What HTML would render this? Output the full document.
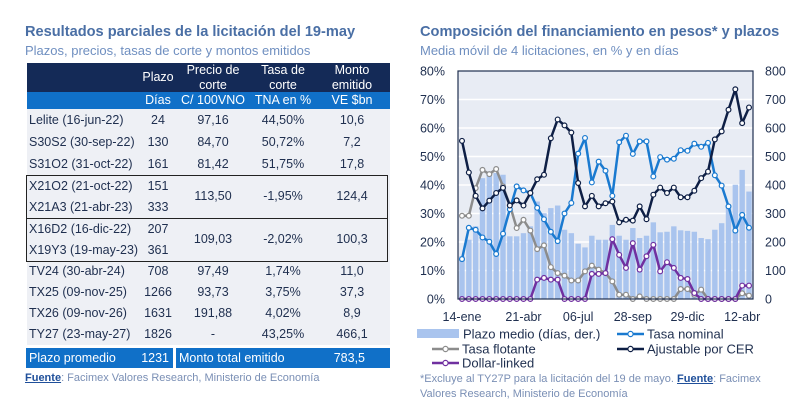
<!DOCTYPE html>
<html><head><meta charset="utf-8"><style>
body{margin:0;width:800px;height:418px;background:#fff;font-family:"Liberation Sans",sans-serif;position:relative;overflow:hidden}
.abs{position:absolute;white-space:nowrap}
.t1{font-size:14.6px;font-weight:bold;color:#4a6fa5}
.t2{font-size:13px;color:#6f8fc0}
table{position:absolute;left:27px;top:63px;width:363px;border-collapse:collapse;font-size:12.5px;color:#1f2f4f;table-layout:fixed}
td{padding:0;text-align:center;line-height:1;white-space:nowrap}
td.n{text-align:left;padding-left:2px}
.h1 td{background:#142a57;color:#fff;height:14.5px;line-height:14.5px}
.h2 td{background:#1070c8;color:#fff;height:17px}
.r td{background:#eef0f5;height:22px}
.g td{background:#eef0f5;height:21.5px}
.s td{background:#eef0f5;height:21px}
.box{position:absolute;border:1.5px solid #222;left:26px;width:362px;box-sizing:border-box}
.src{font-size:11px;color:#7a8fb5}
.src b{color:#1f4f9a;text-decoration:underline}
</style></head><body>
<div class="abs t1" style="left:25px;top:24px">Resultados parciales de la licitación del 19-may</div>
<div class="abs t2" style="left:25px;top:43px">Plazos, precios, tasas de corte y montos emitidos</div>
<table>
<colgroup><col style="width:115px"><col style="width:32px"><col style="width:78px"><col style="width:62px"><col style="width:76px"></colgroup>
<tr class="h1"><td></td><td rowspan="2" style="vertical-align:middle">Plazo</td><td>Precio de</td><td>Tasa de</td><td>Monto</td></tr>
<tr class="h1"><td></td><td>corte</td><td>corte</td><td>emitido</td></tr>
<tr class="h2"><td></td><td>Días</td><td>C/ 100VNO</td><td>TNA en %</td><td>VE $bn</td></tr>
<tr class="r"><td class="n">Lelite (16-jun-22)</td><td>24</td><td>97,16</td><td>44,50%</td><td>10,6</td></tr>
<tr class="r"><td class="n">S30S2 (30-sep-22)</td><td>130</td><td>84,70</td><td>50,72%</td><td>7,2</td></tr>
<tr class="r"><td class="n">S31O2 (31-oct-22)</td><td>161</td><td>81,42</td><td>51,75%</td><td>17,8</td></tr>
<tr class="g"><td class="n">X21O2 (21-oct-22)</td><td>151</td><td rowspan="2">113,50</td><td rowspan="2">-1,95%</td><td rowspan="2">124,4</td></tr>
<tr class="g"><td class="n">X21A3 (21-abr-23)</td><td>333</td></tr>
<tr class="g"><td class="n">X16D2 (16-dic-22)</td><td>207</td><td rowspan="2">109,03</td><td rowspan="2">-2,02%</td><td rowspan="2">100,3</td></tr>
<tr class="g"><td class="n">X19Y3 (19-may-23)</td><td>361</td></tr>
<tr class="s"><td class="n">TV24 (30-abr-24)</td><td>708</td><td>97,49</td><td>1,74%</td><td>11,0</td></tr>
<tr class="s"><td class="n">TX25 (09-nov-25)</td><td>1266</td><td>93,73</td><td>3,75%</td><td>37,3</td></tr>
<tr class="s"><td class="n">TX26 (09-nov-26)</td><td>1631</td><td>191,88</td><td>4,02%</td><td>8,9</td></tr>
<tr class="s"><td class="n">TY27 (23-may-27)</td><td>1826</td><td>-</td><td>43,25%</td><td>466,1</td></tr>
</table>
<div class="box" style="top:175px;height:44px"></div>
<div class="box" style="top:218px;height:44px"></div>
<div class="abs" style="left:26px;top:348px;width:147px;height:20px;background:#1070c8;color:#fff;font-size:12.5px;line-height:20px"><span style="margin-left:3px">Plazo promedio</span><span style="position:absolute;right:4px">1231</span></div>
<div class="abs" style="left:176px;top:348px;width:214px;height:20px;background:#1070c8;color:#fff;font-size:12.5px;line-height:20px"><span style="margin-left:3px">Monto total emitido</span><span style="position:absolute;right:25px">783,5</span></div>
<div class="abs src" style="left:25px;top:372px"><b>Fuente</b>: Facimex Valores Research, Ministerio de Economía</div>

<div class="abs t1" style="left:420px;top:24px">Composición del financiamiento en pesos* y plazos</div>
<div class="abs t2" style="left:420px;top:43px">Media móvil de 4 licitaciones, en % y en días</div>
<svg id="ch" width="800" height="418" style="position:absolute;left:0;top:0"></svg>
<div class="abs src" style="left:420px;top:372px;line-height:15px">*Excluye al TY27P para la licitación del 19 de mayo. <b>Fuente</b>: Facimex<br>Valores Research, Ministerio de Economía</div>
<script>
const plazo=[150,208,255,424,442,442,436,220,220,231,255,342,301,319,328,243,231,194,181,222,208,208,260,222,208,249,214,222,269,234,236,255,241,239,236,214,210,243,266,325,401,453,377];
const nominal=[14,25,24.3,21.6,20.1,15.8,22.9,31.5,39.5,38.1,37.2,32,28,23.6,20.3,30,33.7,51,56.5,40.9,48.2,45,36.2,55,57.3,50.9,55.3,55.3,43,49.8,48.9,49.2,52.2,52,54.5,53.4,54.8,43.4,39.8,32.5,24,29.5,25];
const flotante=[29.2,29.2,38.9,45.3,43.8,45.6,39.5,33,24.9,27.8,24,17.5,18.8,11.2,9.1,8.2,6.5,6.5,9.7,11.7,10.3,9.1,6.2,1.5,1.5,0,0.9,0,0,0,0,0,3.5,3.5,1.5,3.3,0,0,0,0,0,2,1.2];
const dollar=[0,0,0,0,0,0,0,0,0,0,0,6.8,7.4,6.8,6.8,0,0,0,0,8.8,8.8,9.1,21,15.5,10.9,19.6,10.3,15,19,9.7,12.9,10.9,7.4,7,2.1,0,0,0,0,0,0,4.7,4.7];
const cer=[55.5,44.4,36.2,31.8,34.5,37.2,39,32.8,34.6,32.8,37.2,42,43.6,56.4,63,60.9,58.4,40.7,32.5,36.2,32.5,33.6,34.2,26.9,27.8,27.5,32.5,28,36.6,39.1,37.2,39.1,35.7,35.7,38,42.4,44.7,56,58.8,66.4,73.6,61.7,67.2];
const xLabels=["14-ene","21-abr","06-jul","28-sep","29-dic","12-abr"];
const xLabelIdx=[0,9,17,25,33,41];
const leftTicks=[0,10,20,30,40,50,60,70,80];
const rightTicks=[0,100,200,300,400,500,600,700,800];

const L=458,R=753,T=71,B=299,N=plazo.length;
const NS="http://www.w3.org/2000/svg";
const svg=document.getElementById('ch');
const xs=i=>L+4+i*(R-L-8)/(N-1);
const yl=v=>B-(v/80)*(B-T);
const yr=v=>B-(v/800)*(B-T);
function mk(tag,at,parent){const e=document.createElementNS(NS,tag);for(const k in at)e.setAttribute(k,at[k]);(parent||svg).appendChild(e);return e;}
let bg=mk('rect',{x:L,y:T,width:R-L,height:B-T,fill:'#e8ecf4'});


leftTicks.forEach((t,i)=>{
  if(t>0&&t<80){let g=mk('line',{x1:L,x2:R,y1:yl(t),y2:yl(t),stroke:'#fff','stroke-width':1.5});
  
  }
  let a=mk('text',{x:445,y:yl(t)+4.5,'text-anchor':'end','font-size':12.5,fill:'#1f2f4f'});a.textContent=t+'%';
  
  
  let b=mk('text',{x:765,y:yr(rightTicks[i])+4.5,'font-size':12.5,fill:'#1f2f4f'});b.textContent=rightTicks[i];
  
  
});
plazo.forEach((v,i)=>{let r=mk('rect',{x:xs(i)-2.7,y:yr(v),width:5.4,height:B-yr(v),fill:'#a9c4ee'});
  
  });
function series(arr,color,name){
  let p=mk('polyline',{points:arr.map((v,i)=>xs(i)+','+yl(v)).join(' '),fill:'none',stroke:color,'stroke-width':2.5,'stroke-linejoin':'round'});
  
  
  arr.forEach((v,i)=>{let c=mk('circle',{cx:xs(i),cy:yl(v),r:2.4,fill:'#fff',stroke:color,'stroke-width':1.2});
    
    });
}
series(flotante,'#8c8c8c','tasa-flotante');
series(dollar,'#7030a0','dollar-linked');
series(nominal,'#1a7ad0','tasa-nominal');
series(cer,'#0e1f45','cer');
let fr=mk('rect',{x:L,y:T,width:R-L,height:B-T,fill:'none',stroke:'#1f2f4f','stroke-width':1.2});


xLabels.forEach((s,k)=>{let t=mk('text',{x:xs(xLabelIdx[k]),y:321,'text-anchor':'middle','font-size':12.5,fill:'#1f2f4f'});t.textContent=s;
  
  });
const lg=[["Plazo medio (días, der.)",'bar','#a9c4ee',432,334],["Tasa nominal",'line','#1a7ad0',617,334],["Tasa flotante",'line','#8c8c8c',432,349],["Ajustable por CER",'line','#0e1f45',617,349],["Dollar-linked",'line','#7030a0',432,363]];
lg.forEach(([s,kind,c,x,y])=>{
  let g=mk('g',{});
  
  
  if(kind==='bar')mk('rect',{x:x-15,y:y-5,width:42,height:9,fill:c},g);
  else{mk('line',{x1:x,x2:x+27,y1:y,y2:y,stroke:c,'stroke-width':2.5},g);mk('circle',{cx:x+13.5,cy:y,r:2.6,fill:'#fff',stroke:c,'stroke-width':1.2},g);}
  let t=mk('text',{x:x+(kind==='bar'?31:30),y:y+4.5,'font-size':13,fill:'#1f2f4f'},g);t.textContent=s;
});
</script>
</body></html>
